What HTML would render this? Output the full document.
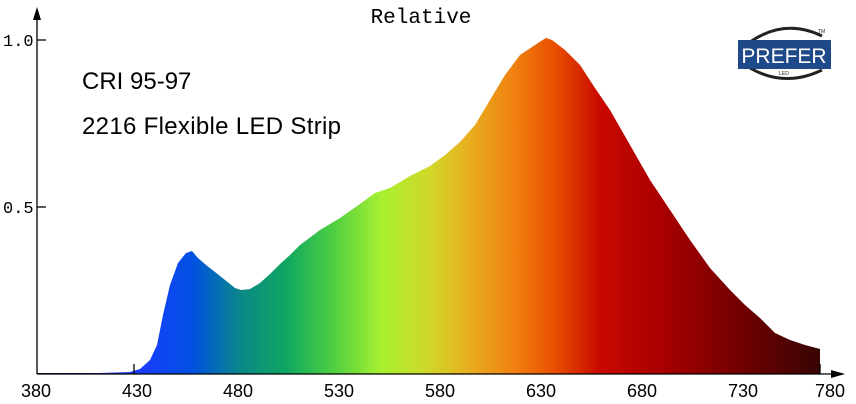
<!DOCTYPE html>
<html><head><style>body{margin:0;background:#fff}svg{display:block}</style></head><body>
<svg width="856" height="404" xmlns="http://www.w3.org/2000/svg">
<defs>
<linearGradient id="g" gradientUnits="userSpaceOnUse" x1="37" y1="0" x2="820" y2="0">
<stop offset="0" stop-color="#10104a"/>
<stop offset="0.13" stop-color="#1a3cff"/>
<stop offset="0.2" stop-color="#0052e0"/>
<stop offset="0.26" stop-color="#0a8888"/>
<stop offset="0.32" stop-color="#10a860"/>
<stop offset="0.38" stop-color="#50d040"/>
<stop offset="0.44" stop-color="#a8f030"/>
<stop offset="0.5" stop-color="#d0d828"/>
<stop offset="0.55" stop-color="#e8b020"/>
<stop offset="0.61" stop-color="#f08010"/>
<stop offset="0.66" stop-color="#e85000"/>
<stop offset="0.72" stop-color="#c80800"/>
<stop offset="0.8" stop-color="#a80000"/>
<stop offset="0.9" stop-color="#700000"/>
<stop offset="1" stop-color="#380404"/>
</linearGradient>
</defs>
<path fill="url(#g)" d="M37,374 L37,373 L100,373 L130,372 L140,369 L150,360 L157,345 L163,315 L170,285 L178,263 L186,253 L192,251 L198,258 L206,265 L215,272 L225,280 L235,288 L241,290 L250,289 L260,283 L270,274 L280,264 L290,255 L300,245 L320,230 L340,218 L360,204 L375,193 L390,188 L410,176 L430,166 L445,155 L460,142 L475,125 L490,100 L505,75 L520,55 L532,47 L541,41 L546,38 L552,40 L565,50 L580,65 L595,88 L610,110 L630,145 L650,180 L670,210 L690,240 L710,268 L730,290 L745,305 L760,318 L775,333 L790,340 L805,345 L820,349 L820,374 Z"/>
<g stroke="#000" stroke-width="1.3" fill="none">
<line x1="37" y1="374" x2="37" y2="14"/>
<line x1="37" y1="374" x2="835" y2="374"/>
<line x1="37" y1="40" x2="46" y2="40"/>
<line x1="37" y1="207" x2="46" y2="207"/>
<line x1="134" y1="374" x2="134" y2="364"/>
<line x1="820" y1="374" x2="820" y2="364"/>
</g>
<polygon points="37,7 33,20 41,20" fill="#000"/>
<polygon points="845,374 831,370 831,378" fill="#000"/>
<g font-family="Liberation Mono, monospace" font-size="17" fill="#000">
<text x="421" y="23" text-anchor="middle" font-size="21">Relative</text>
<text x="3" y="46">1.0</text>
<text x="3" y="213">0.5</text>
</g>
<g font-family="Liberation Sans, sans-serif" font-size="18" fill="#000" text-anchor="middle">
<text x="36" y="397">380</text><text x="137" y="397">430</text><text x="238" y="397">480</text>
<text x="339" y="397">530</text><text x="440" y="397">580</text><text x="541" y="397">630</text>
<text x="642" y="397">680</text><text x="743" y="397">730</text><text x="830" y="397">780</text>
</g>
<g font-family="Liberation Sans, sans-serif" font-size="24" fill="#000">
<text x="82" y="89">CRI 95-97</text>
<text x="82" y="134" textLength="259">2216 Flexible LED Strip</text>
</g>
<path d="M750,42 Q785,18 822,36" stroke="#222" stroke-width="3" fill="none"/>
<path d="M750,68 Q785,88 822,70" stroke="#222" stroke-width="3" fill="none"/>
<rect x="738" y="40" width="93" height="29" fill="#1f4a8a"/>
<text x="784" y="63" text-anchor="middle" font-family="Liberation Sans, sans-serif" font-size="21" fill="#fff">PREFER</text>
<text x="784" y="75" text-anchor="middle" font-family="Liberation Sans, sans-serif" font-size="5" fill="#222">LED</text>
<text x="818" y="33" font-family="Liberation Sans, sans-serif" font-size="5" fill="#222">TM</text>
</svg>
</body></html>
